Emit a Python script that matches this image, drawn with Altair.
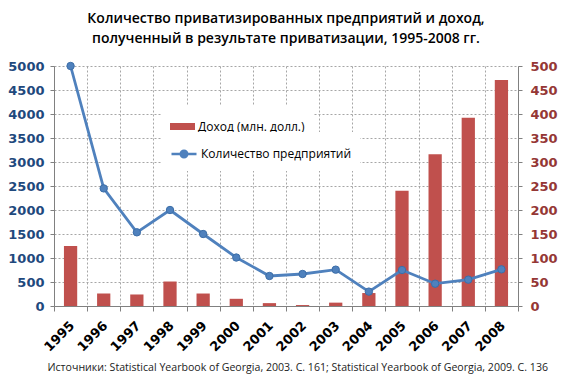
import altair as alt
import pandas as pd

years = ["1995", "1996", "1997", "1998", "1999", "2000", "2001",
         "2002", "2003", "2004", "2005", "2006", "2007", "2008"]
income = [125, 26, 24, 51, 26, 15, 6, 2, 7, 27, 240, 316, 392, 471]
count = [5000, 2450, 1535, 2000, 1500, 1010, 625, 667, 757, 300, 750, 465, 549, 764]

income_label = "Доход (млн. долл.)"
count_label = "Количество предприятий"
title_lines = ["Количество приватизированных предприятий и доход,",
               "полученный в результате приватизации, 1995-2008 гг."]
source_text = ("Источники: Statistical  Yearbook of Georgia, 2003.  C. 161;  "
               "Statistical  Yearbook of Georgia, 2009.  C. 136")
left_ticks = list(range(0, 5001, 500))
right_ticks = list(range(0, 501, 50))

df = pd.DataFrame({"year": years, "income": income, "count": count,
                   "inc_s": income_label, "cnt_s": count_label})

RED = "#C0504D"
BLUE = "#4F81BD"
GRID = "#A6A6A6"

xenc = alt.X("year:O",
             scale=alt.Scale(paddingInner=0, paddingOuter=0),
             axis=alt.Axis(title=source_text, labelAngle=-45, labelFont="DejaVu Sans",
                           labelFontWeight="bold", labelFontSize=13, labelColor="#000000",
                           labelPadding=8, labelOffset=-3, tickSize=5, tickBand="extent",
                           tickColor="#808080", domainColor="#808080",
                           grid=True, gridColor=GRID, gridDash=[2, 2],
                           titleFont="Open Sans", titleFontSize=10.6, titleFontWeight="normal",
                           titleColor="#222222", titleAlign="left", titleBaseline="middle",
                           titleX=-7, titleY=61))

left_axis = alt.Axis(orient="left", title=None, values=left_ticks, grid=True,
                     format="d", gridColor=GRID, gridDash=[2, 2], labelOverlap=False,
                     labelFont="DejaVu Sans", labelFontWeight="bold", labelFontSize=13,
                     labelColor="#1F497D", tickSize=4, labelPadding=6,
                     tickColor="#808080", domainColor="#808080")
left_scale = alt.Scale(domain=[0, 5000], nice=False)

bars = alt.Chart(df).mark_bar(width=alt.RelativeBandSize(0.4)).encode(
    x=xenc,
    y=alt.Y("income:Q", scale=alt.Scale(domain=[0, 500], nice=False),
            axis=alt.Axis(orient="right", title=None, values=right_ticks, grid=False,
                          format="d", labelOverlap=False,
                          labelFont="DejaVu Sans", labelFontWeight="bold", labelFontSize=13,
                          labelColor="#953735", tickSize=4, labelPadding=8,
                          tickColor="#808080", domainColor="#808080")),
    color=alt.Color("inc_s:N", scale=alt.Scale(domain=[income_label], range=[RED]),
                    legend=alt.Legend(title=None, orient="none", legendX=108, legendY=40,
                                      symbolType="M-1,-0.28L1,-0.28L1,0.28L-1,0.28Z",
                                      symbolSize=625, symbolStrokeWidth=0,
                                      labelFont="Open Sans", labelFontSize=12,
                                      labelColor="#000000", labelOffset=3,
                                      fillColor="white", padding=8)),
)

line = alt.Chart(df).mark_line(strokeWidth=2.8).encode(
    x=alt.X("year:O"),
    y=alt.Y("count:Q", scale=left_scale, axis=left_axis),
    stroke=alt.Stroke("cnt_s:N", scale=alt.Scale(domain=[count_label], range=[BLUE]),
                      legend=alt.Legend(title=None, orient="none", legendX=108, legendY=66,
                                        symbolType="M-1,0L1,0M0.26,0A0.26,0.26,0,1,1,-0.26,0A0.26,0.26,0,1,1,0.26,0Z",
                                        symbolSize=625, symbolStrokeWidth=2.5,
                                        symbolFillColor=BLUE,
                                        labelFont="Open Sans", labelFontSize=12,
                                        labelColor="#000000", labelOffset=3,
                                        fillColor="white", padding=8)),
)

points = alt.Chart(df).mark_point(filled=True, size=55, color=BLUE, opacity=1,
                                  stroke="#3C6EA8", strokeWidth=1).encode(
    x=alt.X("year:O"),
    y=alt.Y("count:Q", scale=left_scale, axis=left_axis),
)

chart = alt.layer(bars, line + points).resolve_scale(y="independent").properties(
    width=464, height=240,
    autosize=alt.AutoSizeParams(type="none"),
    padding={"left": 46, "top": 58, "right": 55, "bottom": 73},
    background="white",
    title=alt.TitleParams(text=title_lines, font="Open Sans", fontSize=14, fontWeight=600,
                          color="#000000", anchor="middle", lineHeight=20, offset=14),
).configure_view(stroke=None)

chart.save("out.html", embed_options={"renderer": "svg", "actions": False})
